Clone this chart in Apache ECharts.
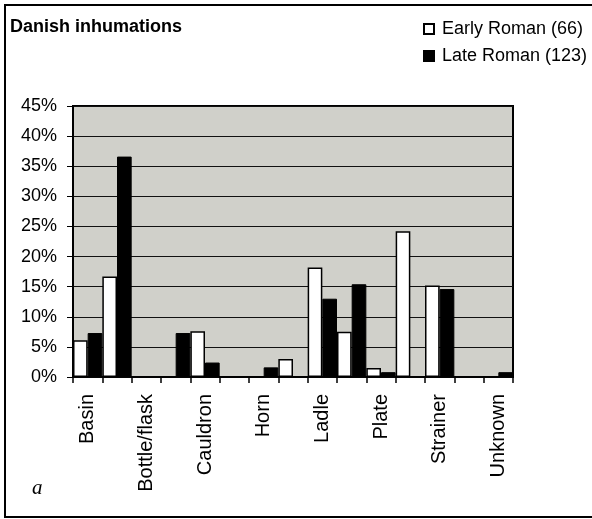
<!DOCTYPE html>
<html>
<head>
<meta charset="utf-8">
<script src="https://cdn.jsdelivr.net/npm/echarts@6/dist/echarts.min.js"></script>
<style>
html,body{margin:0;padding:0;background:#fff;}
#chart{width:592px;height:519px;}
</style>
</head>
<body>
<div id="chart"></div>
<script>
// Categories (only every other label is shown in the reference)
const categories = ["Basin", "Beaker", "Bottle/flask", "Bucket", "Cauldron", "Cup", "Horn", "Jug", "Ladle", "Pan", "Plate", "Saucepan", "Strainer", "Trulla", "Unknown"];
// Percent of graves
const earlyRoman = [6.1, 16.7, 0, 0, 7.6, 0, 0, 3.0, 18.2, 7.5, 1.5, 24.2, 15.2, 0, 0];
const lateRoman  = [7.3, 36.6, 0, 7.3, 2.4, 0, 1.6, 0, 13.0, 15.4, 0.8, 0, 14.6, 0, 0.8];
const seriesNames = ["Early Roman (66)", "Late Roman (123)"];
const yTicks = {min: 0, max: 45, interval: 5};

const FONT = "'Liberation Sans', Arial, sans-serif";
const chart = echarts.init(document.getElementById('chart'), null, {renderer: 'canvas'});
chart.setOption({
  animation: false,
  textStyle: {fontFamily: FONT},
  title: {
    text: 'Danish inhumations',
    left: 5, top: 13,
    textStyle: {fontFamily: FONT, fontSize: 18, fontWeight: 'bold', color: '#000'}
  },
  legend: {
    orient: 'vertical',
    left: 418, top: 15,
    itemWidth: 10, itemHeight: 10, itemGap: 9,
    icon: 'rect',
    textStyle: {fontFamily: FONT, fontSize: 18, color: '#000', padding: [0, 0, 0, 3]},
    data: seriesNames
  },
  grid: {
    left: 73, top: 106, right: 79, height: 271,
    show: true, backgroundColor: '#d0d0ca', borderColor: '#000', borderWidth: 2
  },
  xAxis: {
    type: 'category',
    data: categories,
    boundaryGap: true,
    axisLine: {lineStyle: {color: '#000', width: 1.5}},
    axisTick: {show: true, interval: 0, length: 6, lineStyle: {color: '#000', width: 1.5}},
    axisLabel: {interval: 1, rotate: 90, fontSize: 20, color: '#000', margin: 17, fontFamily: FONT}
  },
  yAxis: {
    type: 'value',
    min: yTicks.min, max: yTicks.max, interval: yTicks.interval,
    axisLine: {show: true, lineStyle: {color: '#000', width: 1.5}},
    axisTick: {show: true, length: 6, lineStyle: {color: '#000'}},
    axisLabel: {formatter: '{value}%', fontSize: 18, color: '#000', margin: 16, fontFamily: FONT},
    splitLine: {show: true, lineStyle: {color: '#111', width: 1}}
  },
  series: [
    {
      name: seriesNames[0], type: 'bar', data: earlyRoman,
      barGap: '0%', barCategoryGap: '0%',
      itemStyle: {color: '#fff', borderColor: '#000', borderWidth: 1.5}
    },
    {
      name: seriesNames[1], type: 'bar', data: lateRoman,
      barGap: '0%', barCategoryGap: '0%',
      itemStyle: {color: '#000', borderColor: '#000', borderWidth: 1}
    }
  ],
  graphic: [
    {type: 'rect', shape: {x: 5, y: 5, width: 620, height: 512}, style: {fill: 'none', stroke: '#000', lineWidth: 2}, silent: true},
    {type: 'text', left: 32, top: 478, style: {text: 'a', font: "italic 21px 'Liberation Serif', 'Times New Roman', serif", fill: '#000'}}
  ]
});
</script>
</body>
</html>
